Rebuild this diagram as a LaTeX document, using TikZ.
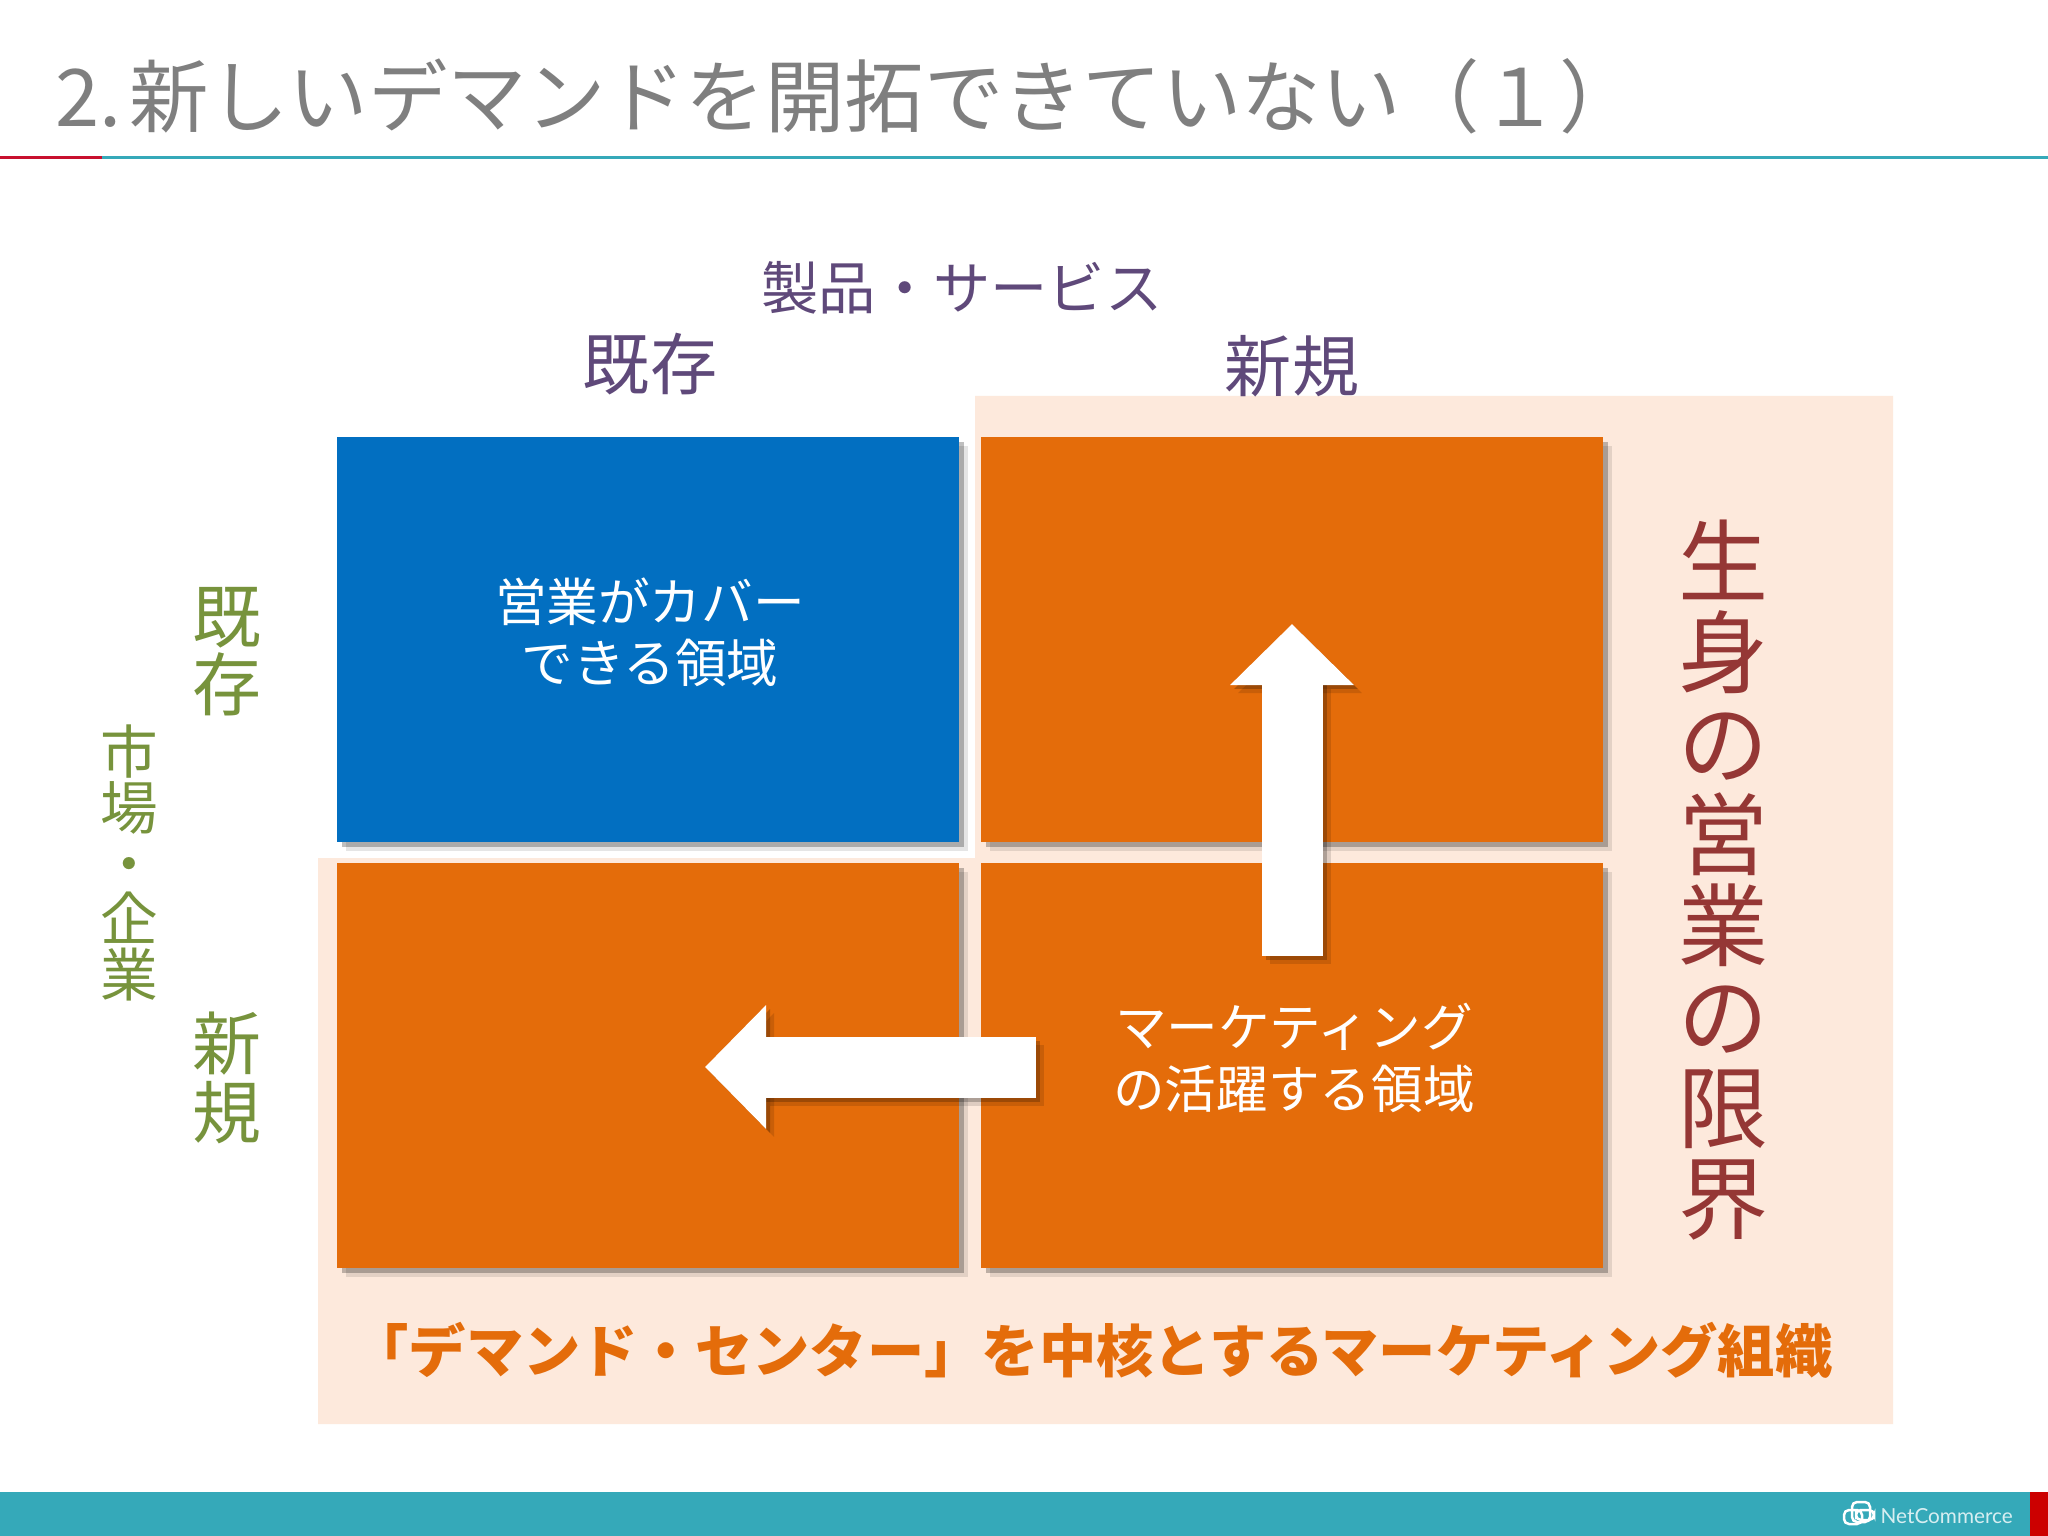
\documentclass[tikz,border=0pt]{standalone}
\usepackage{fontspec}
\setmainfont{Noto Sans CJK JP}
\newfontfamily\logofont{Lato}
\usepackage{tikz}
\usetikzlibrary{arrows.meta, shadows}
\definecolor{barTeal}{HTML}{35A9B9}
\definecolor{lineRed}{HTML}{C8102E}
\definecolor{quadBlue}{HTML}{026FC1}
\definecolor{quadOrange}{HTML}{E46C0A}
\definecolor{peachBack}{HTML}{FDE9DC}
\definecolor{titleGray}{HTML}{7F7F7F}
\definecolor{axisPurple}{HTML}{5F497A}
\definecolor{axisGreen}{HTML}{77933C}
\definecolor{limitRed}{HTML}{953735}
\tikzstyle{quadrant} = [rectangle, minimum width=6.22cm, minimum height=4.05cm, inner sep=0pt, outer sep=0pt,
  drop shadow={shadow xshift=0.05cm, shadow yshift=-0.05cm, fill=black, opacity=0.25},
  drop shadow={shadow xshift=0.09cm, shadow yshift=-0.09cm, fill=black, opacity=0.1}]
\tikzstyle{quadText} = [align=center, text=white, inner sep=0pt, font=\fontsize{14.7}{17.4}\selectfont]
\tikzstyle{purpleText} = [text=axisPurple, inner sep=0pt]
\tikzstyle{greenText} = [text=axisGreen, inner sep=0pt, align=center]
\tikzstyle{blockArrow} = [line width=0.61cm, -{Triangle[length=0.61cm, width=1.2cm]}]
\begin{document}
\begin{tikzpicture}[node distance=6.44cm]
    \useasboundingbox (0,0) rectangle (20.48,-15.36);
    \fill [white] (0,0) rectangle (20.48,-15.36);
    % Title
    \node (title) [anchor=west, inner sep=0pt, text=titleGray, font=\fontsize{22.6}{26}\selectfont] at (0.55,-0.96) {2.\hspace{0.08cm}新しいデマンドを開拓できていない（１）};
    \coordinate (ruleStart) at (0,-1.58);
    \coordinate (ruleMid) at (1.02,-1.58);
    \coordinate (ruleEnd) at (20.48,-1.58);
    \draw [lineRed, line width=0.03cm] (ruleStart) -- (ruleMid);
    \draw [barTeal, line width=0.03cm] (ruleMid) -- (ruleEnd);
    % Marketing area
    \fill [peachBack] (9.75,-3.96) -- (18.93,-3.96) -- (18.93,-14.24) -- (3.18,-14.24) -- (3.18,-8.58) -- (9.75,-8.58) -- cycle;
    % Quadrants
    \node (existing) [quadrant, fill=quadBlue] at (6.48,-6.395) {};
    \node (newProduct) [quadrant, fill=quadOrange, right of=existing] {};
    \node (newMarket) [quadrant, fill=quadOrange, below of=existing, yshift=2.18cm] {};
    \node (newBoth) [quadrant, fill=quadOrange, right of=newMarket] {};
    % Axis labels
    \node (productAxis) [purpleText, font=\fontsize{16.3}{20}\selectfont] at (9.62,-2.88) {製品・サービス};
    \node (productOld) [purpleText, font=\fontsize{19.1}{23}\selectfont, above of=existing, yshift=-3.69cm, xshift=0.02cm] {既存};
    \node (productNew) [purpleText, font=\fontsize{19.1}{23}\selectfont, above of=newProduct, yshift=-3.71cm] {新規};
    \node (marketAxis) [greenText, font=\fontsize{16.4}{15.9}\selectfont] at (1.29,-8.63) {市\\場\\・\\企\\業};
    \node (marketOld) [greenText, font=\fontsize{19.6}{19.4}\selectfont] at (2.27,-6.52) {既\\存};
    \node (marketNew) [greenText, font=\fontsize{19.6}{19.4}\selectfont] at (2.27,-10.78) {新\\規};
    % Quadrant texts
    \node (salesText) [quadText] at (6.5,-6.32) {営業がカバー\\できる領域};
    \node (marketingText) [quadText] at (12.94,-10.58) {マーケティング\\の活躍する領域};
    % Side texts
    \node (limitText) [text=limitRed, inner sep=0pt, align=center, font=\fontsize{25.6}{25.9}\selectfont] at (17.23,-8.8) {生\\身\\の\\営\\業\\の\\限\\界};
    \node (demandText) [text=quadOrange, inner sep=0pt, font=\fontsize{16.3}{19}\selectfont\bfseries] at (10.92,-13.5) {「デマンド・センター」を中核とするマーケティング組織};
    % Arrows
    \coordinate (upStart) at (12.92,-9.56);
    \coordinate (upTip) at (12.92,-6.24);
    \coordinate (leftStart) at (10.36,-10.67);
    \coordinate (leftTip) at (7.05,-10.67);
    \draw [blockArrow, black, opacity=0.12, transform canvas={xshift=0.08cm, yshift=-0.08cm}] (upStart) -- (upTip);
    \draw [blockArrow, black, opacity=0.12, transform canvas={xshift=0.08cm, yshift=-0.08cm}] (leftStart) -- (leftTip);
    \draw [blockArrow, black, opacity=0.22, transform canvas={xshift=0.04cm, yshift=-0.04cm}] (upStart) -- (upTip);
    \draw [blockArrow, black, opacity=0.22, transform canvas={xshift=0.04cm, yshift=-0.04cm}] (leftStart) -- (leftTip);
    \draw [blockArrow, white] (upStart) -- (upTip);
    \draw [blockArrow, white] (leftStart) -- (leftTip);
    % Footer
    \fill [barTeal] (0,-14.92) rectangle (20.3,-15.36);
    \fill [red!80!black] (20.3,-14.92) rectangle (20.48,-15.36);
    \draw [white, line width=0.025cm, rounded corners=0.05cm] (18.52,-15.02) rectangle (18.7,-15.22);
    \draw [white, line width=0.025cm, rounded corners=0.05cm] (18.62,-15.1) rectangle (18.44,-15.24);
    \draw [white, line width=0.025cm, rounded corners=0.05cm] (18.56,-15.1) rectangle (18.74,-15.2);
    \node (logoText) [anchor=west, inner sep=0pt, text=white!80!barTeal, font=\logofont\fontsize{5.9}{8}\selectfont] at (18.8,-15.16) {NetCommerce};
\end{tikzpicture}
\end{document}
